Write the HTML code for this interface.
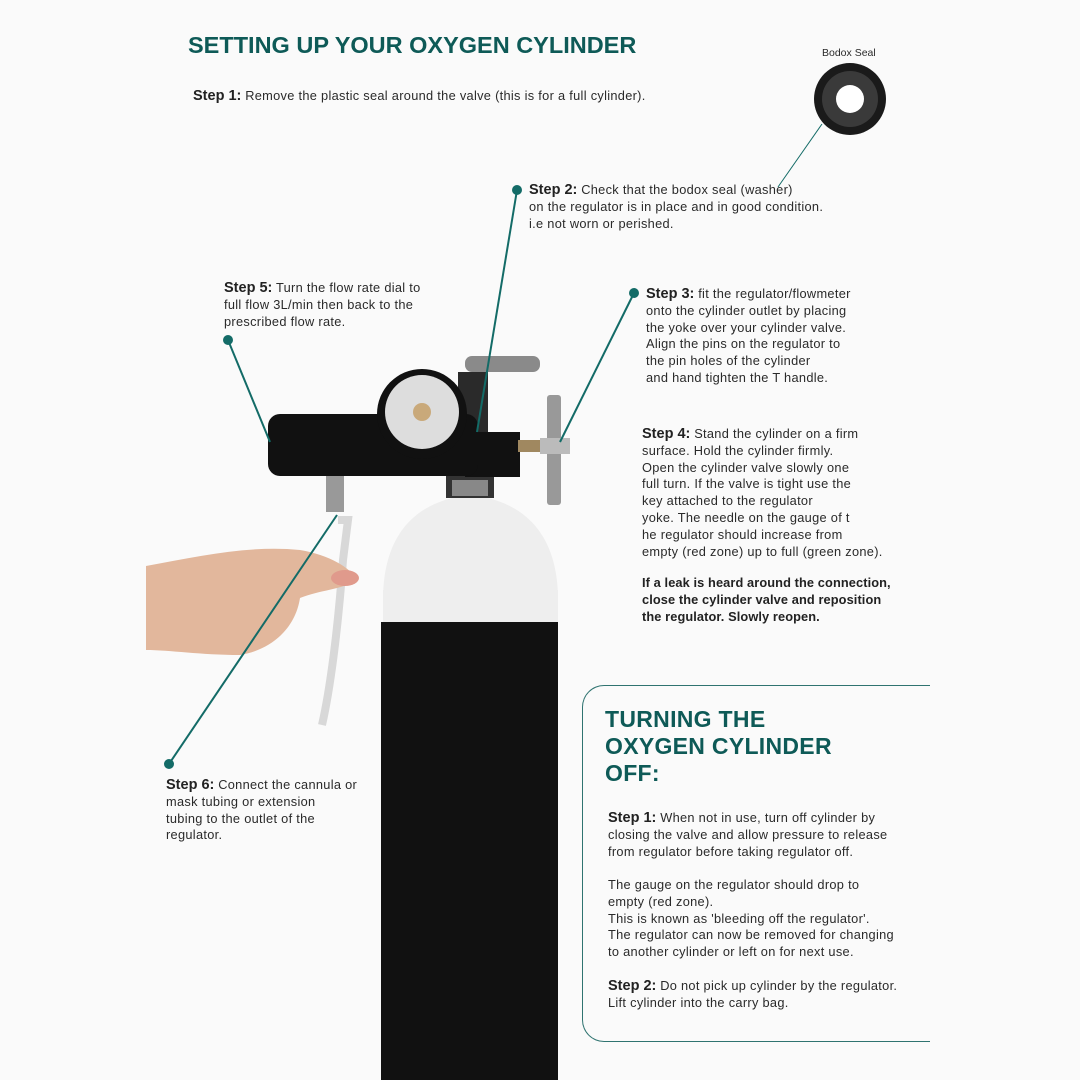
<!DOCTYPE html>
<html><head><meta charset="utf-8"><style>
*{margin:0;padding:0;box-sizing:border-box}
body{width:1080px;height:1080px;background:#fafafa;position:relative;overflow:hidden;font-family:"Liberation Sans",sans-serif;color:#222}
.t{position:absolute;font-size:12.8px;letter-spacing:0.3px;line-height:16.8px;color:#2a2a2a;white-space:nowrap}
.t b{font-size:14.5px;color:#222;letter-spacing:0}
h1{position:absolute;left:188px;top:32px;font-size:23.5px;color:#0e5a57;font-weight:bold;letter-spacing:0}
.box{position:absolute;left:582px;top:685px;width:348px;height:357px;border:1.5px solid #2f7370;border-right:none;border-radius:22px 0 0 22px}
h2{position:absolute;left:605px;top:706px;font-size:23px;line-height:27px;color:#0e5a57;font-weight:bold;letter-spacing:0.3px}
</style></head><body>
<h1>SETTING UP YOUR OXYGEN CYLINDER</h1>
<div class="t" style="left:193px;top:88px"><b>Step 1:</b> Remove the plastic seal around the valve (this is for a full cylinder).</div>
<div class="t" style="left:822px;top:45px;font-size:10.5px;letter-spacing:0">Bodox Seal</div>
<div class="t" style="left:529px;top:182px"><b>Step 2:</b> Check that the bodox seal (washer)<br>on the regulator is in place and in good condition.<br>i.e not worn or perished.</div>
<div class="t" style="left:224px;top:280px"><b>Step 5:</b> Turn the flow rate dial to<br>full flow 3L/min then back to the<br>prescribed flow rate.</div>
<div class="t" style="left:646px;top:286px"><b>Step 3:</b> fit the regulator/flowmeter<br>onto the cylinder outlet by placing<br>the yoke over your cylinder valve.<br>Align the pins on the regulator to<br>the pin holes of the cylinder<br>and hand tighten the T handle.</div>
<div class="t" style="left:642px;top:426px"><b>Step 4:</b> Stand the cylinder on a firm<br>surface. Hold the cylinder firmly.<br>Open the cylinder valve slowly one<br>full turn. If the valve is tight use the<br>key attached to the regulator<br>yoke. The needle on the gauge of t<br>he regulator should increase from<br>empty (red zone) up to full (green zone).</div>
<div class="t" style="left:642px;top:575px;font-weight:bold;color:#222;letter-spacing:0.1px">If a leak is heard around the connection,<br>close the cylinder valve and reposition<br>the regulator. Slowly reopen.</div>
<div class="t" style="left:166px;top:777px"><b>Step 6:</b> Connect the cannula or<br>mask tubing or extension<br>tubing to the outlet of the<br>regulator.</div>
<div class="box"></div>
<h2>TURNING THE<br>OXYGEN CYLINDER<br>OFF:</h2>
<div class="t" style="left:608px;top:810px"><b>Step 1:</b> When not in use, turn off cylinder by<br>closing the valve and allow pressure to release<br>from regulator before taking regulator off.</div>
<div class="t" style="left:608px;top:877px">The gauge on the regulator should drop to<br>empty (red zone).<br>This is known as 'bleeding off the regulator'.<br>The regulator can now be removed for changing<br>to another cylinder or left on for next use.</div>
<div class="t" style="left:608px;top:978px"><b>Step 2:</b> Do not pick up cylinder by the regulator.<br>Lift cylinder into the carry bag.</div>
<svg width="1080" height="1080" style="position:absolute;left:0;top:0">
<circle cx="850" cy="99" r="36" fill="#1a1a1a"/><circle cx="850" cy="99" r="28" fill="#3a3a3a"/><circle cx="850" cy="99" r="14" fill="#fff"/>
<path d="M383 600 C383 530 420 500 470 495 C520 500 558 530 558 600 Z" fill="#eeeeee"/>
<rect x="383" y="590" width="175" height="40" fill="#eeeeee"/>
<rect x="381" y="622" width="177" height="460" fill="#111"/>
<rect x="446" y="470" width="48" height="28" fill="#333"/>
<rect x="452" y="480" width="36" height="16" fill="#888"/>
<rect x="458" y="372" width="30" height="100" fill="#2a2a2a"/>
<rect x="465" y="356" width="75" height="16" rx="7" fill="#8a8a8a"/>
<rect x="465" y="432" width="55" height="45" fill="#111"/>
<rect x="518" y="440" width="36" height="12" fill="#a08860"/>
<rect x="547" y="395" width="14" height="110" rx="3" fill="#999"/>
<rect x="540" y="438" width="30" height="16" fill="#bbb"/>
<rect x="268" y="414" width="210" height="62" rx="12" fill="#111"/>
<circle cx="422" cy="414" r="45" fill="#111"/><circle cx="422" cy="412" r="37" fill="#ddd"/>
<circle cx="422" cy="412" r="9" fill="#c9a97a"/>
<rect x="326" y="476" width="18" height="36" fill="#999"/>
<path d="M338 520 L348 520 L343 560 C338 630 330 690 322 725" stroke="#d8d8d8" stroke-width="8" fill="none"/>
<path d="M146 566 C200 556 250 545 300 550 C330 555 350 568 358 580 C340 590 320 590 300 598 C295 630 270 650 240 655 C200 655 170 650 146 650 Z" fill="#e2b79c"/>
<ellipse cx="345" cy="578" rx="14" ry="8" fill="#e09a8c"/>
<g stroke="#136b67" stroke-width="2" fill="#136b67">
<line x1="778" y1="187" x2="822" y2="124" stroke-width="1"/>
<line x1="517" y1="190" x2="477" y2="432"/><circle cx="517" cy="190" r="5" stroke="none"/>
<line x1="634" y1="293" x2="560" y2="442"/><circle cx="634" cy="293" r="5" stroke="none"/>
<line x1="228" y1="340" x2="270" y2="442"/><circle cx="228" cy="340" r="5" stroke="none"/>
<line x1="169" y1="764" x2="337" y2="515"/><circle cx="169" cy="764" r="5" stroke="none"/>
</g>
</svg>
</body></html>
